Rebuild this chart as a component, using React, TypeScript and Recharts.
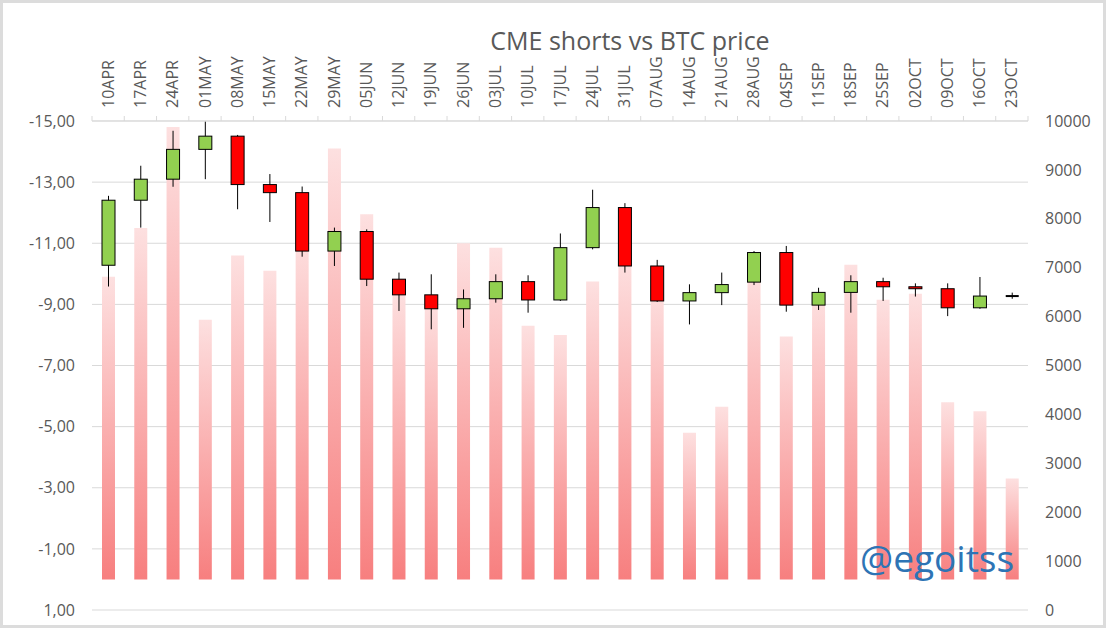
import React from "react";
import { ComposedChart, Bar, XAxis, YAxis, CartesianGrid } from "recharts";

// 週ラベル
const weeks = [
  "10APR", "17APR", "24APR", "01MAY", "08MAY", "15MAY", "22MAY", "29MAY",
  "05JUN", "12JUN", "19JUN", "26JUN", "03JUL", "10JUL", "17JUL", "24JUL",
  "31JUL", "07AUG", "14AUG", "21AUG", "28AUG", "04SEP", "11SEP", "18SEP",
  "25SEP", "02OCT", "09OCT", "16OCT", "23OCT",
];

// CMEショート（左軸・反転）
const cmeShorts = [
  -9.9, -11.5, -14.8, -8.5, -10.6, -10.1, -11.3, -14.1,
  -11.95, -9.5, -9.1, -11.0, -10.85, -8.3, -8.0, -9.75,
  -10.5, -9.6, -4.8, -5.65, -10.2, -7.95, -9.3, -10.3,
  -9.15, -9.35, -5.8, -5.5, -3.3,
];

// BTC 週足（右軸）
const btcOpen = [
  7050, 8380, 8810, 9420, 9690, 8700, 8535, 7340,
  7740, 6765, 6445, 6160, 6365, 6715, 6340, 7410,
  8230, 7035, 6320, 6490, 6705, 7310, 6235, 6495,
  6715, 6610, 6570, 6180, 6420,
];
const btcClose = [
  8380, 8810, 9420, 9690, 8700, 8535, 7340, 7740,
  6765, 6445, 6160, 6365, 6715, 6340, 7410, 8230,
  7035, 6320, 6490, 6655, 7310, 6235, 6495, 6715,
  6610, 6570, 6180, 6420, 6420,
];
const btcHigh = [
  8470, 9085, 9800, 9990, 9715, 8915, 8660, 7820,
  7785, 6900, 6865, 6555, 6865, 6845, 7700, 8595,
  8320, 7160, 6660, 6900, 7340, 7445, 6590, 6845,
  6795, 6680, 6680, 6810, 6490,
];
const btcLow = [
  6615, 7820, 8655, 8810, 8195, 7935, 7225, 7035,
  6625, 6115, 5740, 5770, 6285, 6080, 6320, 7375,
  6900, 6300, 5840, 6235, 6645, 6100, 6135, 6080,
  6320, 6410, 6010, 6160, 6365,
];

const leftTicks = [-15, -13, -11, -9, -7, -5, -3, -1, 1];
const rightTicks = [0, 1000, 2000, 3000, 4000, 5000, 6000, 7000, 8000, 9000, 10000];

const data = weeks.map((week, i) => ({
  week,
  cme: cmeShorts[i],
  open: btcOpen[i],
  high: btcHigh[i],
  low: btcLow[i],
  close: btcClose[i],
}));

const FONT = '"Open Sans", "Liberation Sans", sans-serif';
const TEXT = "#595959";
const GRID = "#d9d9d9";

// 縦書きの週ラベル＋区切り目盛り
const WeekTick = (props: any) => {
  const { x, y, payload, index } = props;
  const half = payload?.offset ?? 0;
  const axisY = y + 13;
  return (
    <g>
      <line x1={x - half} x2={x - half} y1={axisY} y2={axisY - 5} stroke={GRID} />
      {index === weeks.length - 1 && (
        <line x1={x + half} x2={x + half} y1={axisY} y2={axisY - 5} stroke={GRID} />
      )}
      <text
        x={x}
        y={y}
        dy="0.35em"
        transform={`rotate(-90, ${x}, ${y})`}
        textAnchor="start"
        fill={TEXT}
        fontSize={16}
        fontFamily={FONT}
      >
        {payload.value}
      </text>
    </g>
  );
};

// ローソク足
const Candle = (props: any) => {
  const { x, y, width, height, payload } = props;
  const { open, close, high, low } = payload;
  if (high === low) return null;
  const k = height / (high - low);
  const yOpen = y + (high - open) * k;
  const yClose = y + (high - close) * k;
  const top = Math.min(yOpen, yClose);
  const bodyH = Math.abs(yOpen - yClose);
  const cx = x + width / 2;
  const up = close > open;
  return (
    <g>
      <line x1={cx} x2={cx} y1={y} y2={y + height} stroke="#000" strokeWidth={1} />
      {bodyH < 1.5 ? (
        <line x1={x} x2={x + width} y1={top} y2={top} stroke="#000" strokeWidth={2} />
      ) : (
        <rect
          x={x}
          y={top}
          width={width}
          height={bodyH}
          fill={up ? "#92d050" : "#ff0000"}
          stroke="#000"
          strokeWidth={1}
        />
      )}
    </g>
  );
};

const fmtLeft = (v: number) => v.toFixed(2).replace(".", ",");

export default function App() {
  return (
    <div
      style={{
        position: "absolute",
        left: 0,
        top: 0,
        width: 1106,
        height: 628,
        background: "#fff",
        fontFamily: FONT,
      }}
    >
      <ComposedChart
        width={1106}
        height={628}
        data={data}
        margin={{ top: 0, right: 8, bottom: 18, left: 12 }}
      >
        <defs>
          <linearGradient id="cmeGrad" x1="0" y1="0" x2="0" y2="1">
            <stop offset="0%" stopColor="#fde0e0" />
            <stop offset="100%" stopColor="#f77f7f" />
          </linearGradient>
        </defs>
        <CartesianGrid xAxisId="w" yAxisId="left" vertical={false} stroke={GRID} />
        <XAxis
          xAxisId="w"
          dataKey="week"
          orientation="top"
          height={121}
          interval={0}
          axisLine={{ stroke: GRID }}
          tickLine={false}
          tickSize={5}
          tickMargin={8}
          tick={<WeekTick />}
        />
        <XAxis xAxisId="c" dataKey="week" hide />
        <YAxis
          yAxisId="left"
          domain={[-15, 1]}
          reversed
          ticks={leftTicks}
          interval={0}
          width={80}
          axisLine={false}
          tickLine={false}
          tickMargin={11}
          tickFormatter={fmtLeft}
          tick={{ fill: TEXT, fontSize: 16, fontFamily: FONT }}
        />
        <YAxis
          yAxisId="right"
          orientation="right"
          domain={[0, 10000]}
          ticks={rightTicks}
          interval={0}
          width={70}
          axisLine={false}
          tickLine={false}
          tickMargin={11}
          tick={{ fill: TEXT, fontSize: 16, fontFamily: FONT }}
        />
        <Bar
          xAxisId="w"
          yAxisId="left"
          dataKey="cme"
          barSize={13}
          fill="url(#cmeGrad)"
          isAnimationActive={false}
        />
        <Bar
          xAxisId="c"
          yAxisId="right"
          dataKey={(d: any) => [d.low, d.high]}
          barSize={13}
          shape={(p: any) => <Candle {...p} />}
          isAnimationActive={false}
        />
      </ComposedChart>
      <svg
        width={1106}
        height={628}
        style={{ position: "absolute", left: 0, top: 0, pointerEvents: "none" }}
      >
        <text x={630} y={50} textAnchor="middle" fill={TEXT} fontSize={25} fontFamily={FONT}>
          CME shorts vs BTC price
        </text>
        <text x={860} y={572} fill="#2e74b5" fontSize={37} fontFamily={FONT}>
          @egoitss
        </text>
      </svg>
      <div
        style={{
          position: "absolute",
          left: 0,
          top: 0,
          width: 1106,
          height: 628,
          boxSizing: "border-box",
          border: "3px solid #dcdcdc",
          pointerEvents: "none",
        }}
      />
    </div>
  );
}
